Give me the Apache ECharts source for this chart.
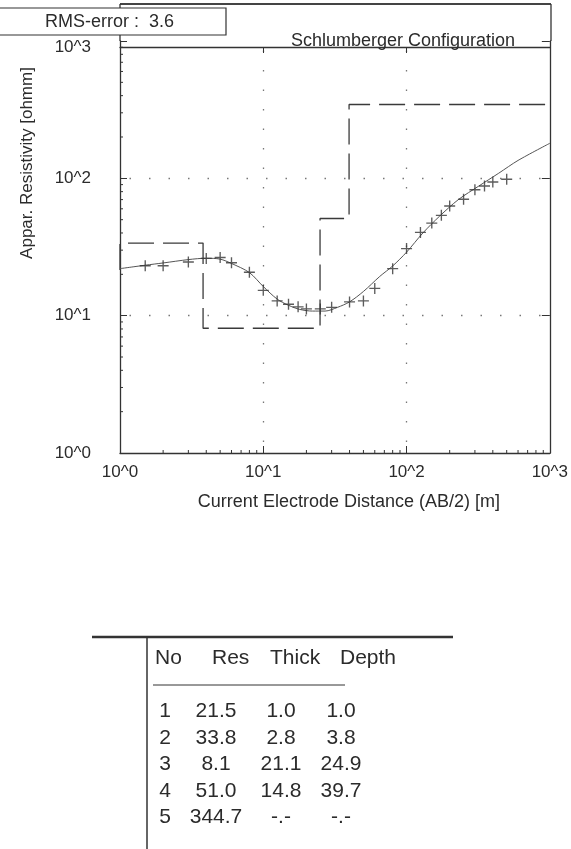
<!DOCTYPE html>
<html>
<head>
<meta charset="utf-8">
<script src="https://cdn.jsdelivr.net/npm/echarts@6/dist/echarts.min.js"></script>
<style>
html, body { margin: 0; padding: 0; background: #fff; }
#main { width: 571px; height: 849px; }
</style>
</head>
<body>
<div id="main"></div>
<script>
// measured apparent resistivity (crosses)
var abHalf = [1.5, 2, 3, 4, 5, 6, 8, 10, 12.5, 15, 17.5, 20, 25, 30, 40, 50, 60, 80, 100, 125, 150, 175, 200, 250, 300, 350, 400, 500];
var rhoObs = [23.1, 23.1, 24.6, 26.1, 26.5, 24.3, 20.7, 15.3, 12.8, 12.1, 11.6, 11.2, 11.2, 11.5, 12.6, 12.8, 15.8, 22.0, 30.8, 40.4, 47.2, 53.8, 62.9, 70.4, 82.6, 88.0, 94.1, 98.5];

// model response (solid curve)
var fitAB = [1, 1.5, 2, 3, 4, 5, 6, 8, 10, 12.5, 15, 18, 22, 27, 33, 40, 50, 65, 80, 100, 130, 170, 230, 320, 440, 600, 1000];
var fitRho = [22.0, 23.3, 24.2, 25.6, 26.2, 25.8, 24.0, 20.6, 16.3, 13.2, 11.9, 11.1, 10.8, 10.8, 11.5, 12.6, 15.0, 19.3, 23.0, 29.0, 40.0, 53.0, 70.0, 88.0, 109.0, 135.0, 180.0];

// layered model (table + dashed steps)
var layerNo = [1, 2, 3, 4, 5];
var layerRes = [21.5, 33.8, 8.1, 51.0, 344.7];
var layerThick = [1.0, 2.8, 21.1, 14.8, null];
var layerDepth = [1.0, 3.8, 24.9, 39.7, null];
var rmsError = 3.6;

var minorTicks = [2, 3, 4, 5, 6, 7, 8, 9, 20, 30, 40, 50, 60, 70, 80, 90, 200, 300, 400, 500, 600, 700, 800, 900];

var ink = '#2b2b2b';
var font = 'Liberation Sans, Arial, sans-serif';
var chart = echarts.init(document.getElementById('main'));

// step line of the layer model, starts at AB/2 = 1
var stepData = [[1, layerRes[0]]];
for (var i = 1; i < layerRes.length; i++) {
    var d = layerDepth[i - 1];
    if (i > 1) stepData.push([d, layerRes[i - 1]]);
    stepData.push([d, layerRes[i]]);
}
stepData.push([1000, layerRes[layerRes.length - 1]]);

function pow10Label(v) {
    var e = Math.round(Math.log10(v));
    if (e === 3) return '{t|10^3}';
    return '10^' + e;
}

function fmt(v) {
    return v === null ? '-.-' : v.toFixed(1);
}

// table text
var tableItems = [];
var headX = [155, 212, 270, 340];
var headers = ['No', 'Res', 'Thick', 'Depth'];
headers.forEach(function (h, k) {
    tableItems.push({
        type: 'text', x: headX[k], y: 658,
        style: { text: h, fill: ink, font: '21px ' + font, verticalAlign: 'middle' }
    });
});
var colX = [165, 216, 281, 341];
for (var r = 0; r < layerNo.length; r++) {
    var row = [String(layerNo[r]), fmt(layerRes[r]), fmt(layerThick[r]), fmt(layerDepth[r])];
    for (var c = 0; c < row.length; c++) {
        tableItems.push({
            type: 'text', x: colX[c], y: 711.5 + r * 26.5,
            style: { text: row[c], fill: ink, font: '21px ' + font, align: 'center', verticalAlign: 'middle' }
        });
    }
}

var option = {
    backgroundColor: '#fff',
    animation: false,
    textStyle: { fontFamily: font },
    title: {
        text: 'Schlumberger Configuration',
        left: 286, top: 27,
        textStyle: { fontSize: 18, fontWeight: 'normal', color: ink, fontFamily: font }
    },
    grid: { left: 120, right: 20, top: 41, bottom: 396 },
    xAxis: [{
        type: 'log', min: 1, max: 1000, logBase: 10,
        name: 'Current Electrode Distance (AB/2) [m]',
        nameLocation: 'middle', nameGap: 40,
        nameTextStyle: { fontSize: 18, color: ink, padding: [0, 0, 0, 28] },
        axisLine: { lineStyle: { color: '#333', width: 1.3 } },
        axisTick: { inside: true, length: 7, lineStyle: { color: '#333' } },
        axisLabel: { fontSize: 17, color: ink, margin: 11, formatter: function (v) { return '10^' + Math.round(Math.log10(v)); } },
        splitLine: { show: true, showMinLine: false, showMaxLine: false, lineStyle: { color: '#777', width: 1.3, type: [1.5, 18], dashOffset: 10 } }
    }, {
        type: 'log', min: 1, max: 1000, logBase: 10, position: 'top', offset: -6,
        axisLine: { lineStyle: { color: '#333', width: 1.3 } },
        axisTick: { inside: true, length: 6, lineStyle: { color: '#333' } },
        axisLabel: { show: false },
        splitLine: { show: false }
    }],
    yAxis: [{
        type: 'log', min: 1, max: 1000, logBase: 10,
        name: 'Appar. Resistivity [ohmm]',
        nameLocation: 'middle', nameGap: 84,
        nameTextStyle: { fontSize: 17, color: ink, padding: [0, 0, 0, 168] },
        axisLine: { lineStyle: { color: '#333', width: 1.3 } },
        axisTick: { inside: true, length: 7, lineStyle: { color: '#333' } },
        axisLabel: {
            fontSize: 17, color: ink, margin: 29, formatter: pow10Label,
            rich: { t: { fontSize: 17, color: ink, padding: [12, 0, 0, 0] } }
        },
        splitLine: { show: true, showMinLine: false, showMaxLine: false, lineStyle: { color: '#777', width: 1.3, type: [1.5, 18], dashOffset: 10 } }
    }, {
        type: 'log', min: 1, max: 1000, logBase: 10, position: 'right',
        axisLine: { lineStyle: { color: '#333', width: 1.3 } },
        axisTick: { inside: true, length: 8, lineStyle: { color: '#333' } },
        axisLabel: { show: false },
        splitLine: { show: false }
    }],
    series: [{
        name: 'layers',
        type: 'line',
        data: stepData,
        showSymbol: false,
        lineStyle: { color: '#3a3a3a', width: 1.3, type: [26, 9] },
        z: 2
    }, {
        name: 'model',
        type: 'line',
        data: fitAB.map(function (x, k) { return [x, fitRho[k]]; }),
        showSymbol: false,
        smooth: 0.3,
        lineStyle: { color: '#555', width: 1 },
        z: 3
    }, {
        name: 'measured',
        type: 'scatter',
        data: abHalf.map(function (x, k) { return [x, rhoObs[k]]; }),
        symbol: 'path://M5,0h1.4v11.4h-1.4zM0,5h11.4v1.4h-11.4z',
        symbolSize: 11,
        itemStyle: { color: '#333' },
        z: 4
    }, {
        name: 'minorTicks',
        type: 'custom',
        data: minorTicks.map(function (v) { return [v, 1]; }),
        silent: true,
        clip: false,
        renderItem: function (params, api) {
            var v = api.value(0);
            var px = api.coord([v, 1]);
            var py = api.coord([1, v]);
            var st = { stroke: '#333', lineWidth: 1 };
            return {
                type: 'group', children: [
                    { type: 'line', shape: { x1: px[0], y1: px[1], x2: px[0], y2: px[1] - 3 }, style: st },
                    { type: 'line', shape: { x1: py[0], y1: py[1], x2: py[0] + 3, y2: py[1] }, style: st }
                ]
            };
        }
    }],
    graphic: [
        { type: 'line', shape: { x1: 120, y1: 4, x2: 551, y2: 4 }, style: { stroke: '#444', lineWidth: 2 } },
        { type: 'line', shape: { x1: 551, y1: 4, x2: 551, y2: 41 }, style: { stroke: '#333', lineWidth: 1.3 } },
        { type: 'line', shape: { x1: 120, y1: 4, x2: 120, y2: 41 }, style: { stroke: '#333', lineWidth: 1.3 } },
        { type: 'rect', shape: { x: -2, y: 8, width: 228, height: 27 }, style: { fill: '#fff', stroke: '#333', lineWidth: 1.2 }, z: 10 },
        { type: 'text', x: 45, y: 22, z: 11, style: { text: 'RMS-error :  ' + rmsError.toFixed(1), fill: ink, font: '18px ' + font, verticalAlign: 'middle' } },
        { type: 'line', shape: { x1: 92, y1: 637, x2: 453, y2: 637 }, style: { stroke: '#333', lineWidth: 2.5 } },
        { type: 'line', shape: { x1: 147, y1: 637, x2: 147, y2: 849 }, style: { stroke: '#333', lineWidth: 1.5 } },
        { type: 'line', shape: { x1: 153, y1: 685, x2: 345, y2: 685 }, style: { stroke: '#333', lineWidth: 1 } },
        { type: 'group', children: tableItems }
    ]
};

chart.setOption(option);
</script>
</body>
</html>
